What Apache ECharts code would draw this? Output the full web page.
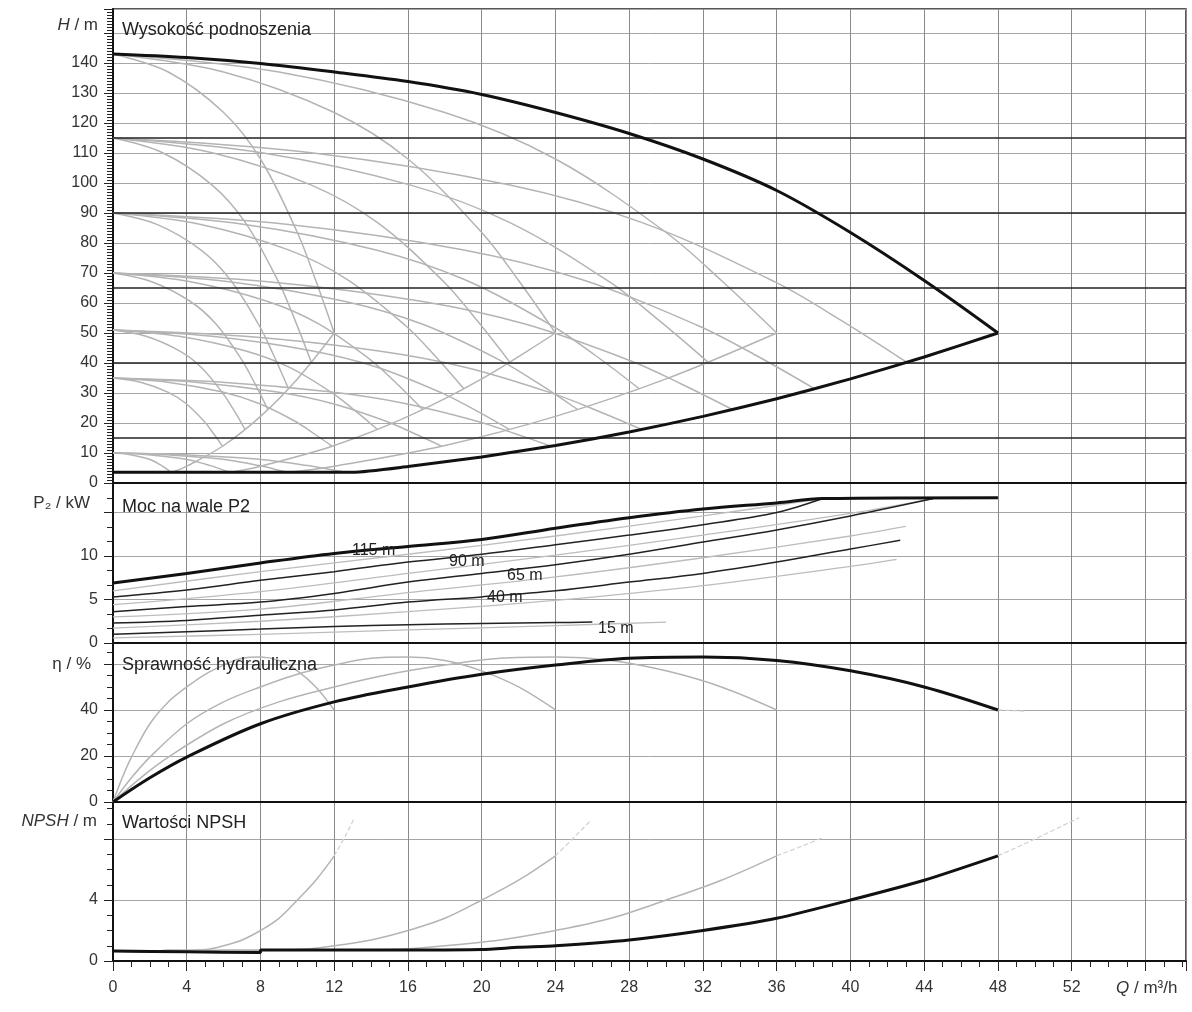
<!DOCTYPE html>
<html><head><meta charset="utf-8">
<script src="https://cdn.jsdelivr.net/npm/echarts@6/dist/echarts.min.js"></script>
<style>html,body{margin:0;padding:0;background:#fff}#c{width:1192px;height:1012px}</style>
</head><body><div id="c"></div><script>
// ---------- DATA ----------
const qTicks = [0,4,8,12,16,20,24,28,32,36,40,44,48,52];
// H panel: max curve (4 pumps, full speed) and lower limit
const hMaxQ = [0,4,8,12,16,20,24,28,32,36,40,44,48];
const hMaxH = [143,141.8,139.8,137,133.8,129.5,123.5,116.5,108,97.5,83.5,67.5,50];
const hMinQ = [0,13,16,20,24,28,32,36,40,44,48];
const hMinH = [3.6,3.6,5.5,8.7,12.5,17,22.2,28.1,34.7,42,50];
const setpoints = [115,90,65,40,15];
// gray speed curves: head values per level, flow values per pump count
const hL143 = [143,137,123.5,108,83.5,67.5,50];
const hL115 = [115,110.1,99.3,86.8,67.1,54.3,40.2];
const hL90  = [90,86.2,77.7,67.9,52.5,42.5,31.4];
const hL70  = [70,67.1,60.5,52.9,40.9,33.1,24.5];
const hL51  = [51,48.9,44.1,38.6,29.8,24.1,17.9];
const hL35  = [35,33.6,30.3,26.5,20.5,16.5,12.3];
const hL10  = [10,9.6,8.6,7.6,5.8,4.7,3.5];
const qL143 = [[0,3,6,8,10,11,12],[0,6,12,16,20,22,24],[0,9,18,24,30,33,36]];
const qL115 = [[0,2.69,5.38,7.18,8.97,9.87,10.76],[0,5.38,10.76,14.35,17.94,19.73,21.53],[0,8.07,16.15,21.53,26.91,29.6,32.29],[0,10.76,21.53,28.7,35.88,39.47,43.06]];
const qL90  = [[0,2.38,4.76,6.34,7.93,8.72,9.52],[0,4.76,9.52,12.69,15.86,17.45,19.03],[0,7.14,14.27,19.03,23.79,26.17,28.55],[0,9.52,19.03,25.38,31.72,34.89,38.06]];
const qL70  = [[0,2.1,4.2,5.6,7,7.7,8.4],[0,4.2,8.4,11.2,14,15.4,16.8],[0,6.3,12.6,16.8,21,23.1,25.2],[0,8.4,16.8,22.4,28,30.8,33.6]];
const qL51  = [[0,1.79,3.58,4.78,5.97,6.57,7.16],[0,3.58,7.16,9.55,11.94,13.13,14.33],[0,5.37,10.75,14.33,17.91,19.7,21.49],[0,7.16,14.33,19.1,23.88,26.27,28.66]];
const qL35  = [[0,1.49,2.97,3.96,4.95,5.45,5.94],[0,2.97,5.94,7.92,9.9,10.89,11.88],[0,4.46,8.91,11.88,14.85,16.34,17.82],[0,5.94,11.88,15.84,19.8,21.78,23.76]];
const qL10  = [[0,0.79,1.58,2.11,2.64,2.9,3.17],[0,1.58,3.17,4.22,5.28,5.81,6.34],[0,2.38,4.75,6.34,7.92,8.71,9.5],[0,3.17,6.34,8.45,10.56,11.62,12.67]];
const locusH = [3.5,5.6,12.5,22.2,34.7,50];
const locusQ = [[3.17,4,6,8,10,12],[6.34,8,12,16,20,24],[9.5,12,18,24,30,36]];
// P2 panel (setpoint curves)
const p115Q = [0,4,8,12,16,20,24,28,32,36,38.5,48];
const p115V = [6.9,8.0,9.2,10.3,11.1,11.9,13.2,14.4,15.4,16.1,16.6,16.7];
const p90Q = [0,4,8,12,16,20,24,28,32,36,38.5];
const p90V = [5.3,6.1,7.2,8.2,9.3,10.2,11.3,12.4,13.6,15.0,16.6];
const p65Q = [0,4,8,12,16,20,24,28,32,36,40,44.5];
const p65V = [3.6,4.2,4.7,5.7,7.0,8.0,9.0,10.2,11.6,13.0,14.6,16.6];
const p40Q = [0,4,8,12,16,20,24,28,32,36,40,42.7];
const p40V = [2.3,2.6,3.2,3.8,4.7,5.3,6.0,7.0,8.0,9.3,10.8,11.8];
const p15Q = [0,4,8,12,16,20,24,26];
const p15V = [1.0,1.3,1.6,1.9,2.1,2.25,2.35,2.4];
// P2 panel (light curves)
const pGrayQ = [[0,8,16,24,32,38.5],[0,8,16,24,32,40,44.5],[0,8,16,24,32,40,43],[0,8,16,24,32,40,42.5],[0,8,16,24,30]];
const pGrayV = [[6.0,8.2,10.2,12.3,14.6,16.6],[4.4,5.9,8.0,10.1,12.4,14.9,16.6],[3.0,3.9,5.8,7.6,9.8,12.3,13.4],[1.7,2.5,3.6,4.9,6.6,8.8,9.6],[0.6,1.0,1.5,2.0,2.4]];
// efficiency panel
const etaQ = [0,2,4,8,12,16,20,24,28,32,36,40,44,48];
const etaV = [0,10.5,19.5,34,43.5,50,55.5,59.5,62.5,63,61.5,57,50,40];
const etaGrayQ = [[0,0.5,1,2,3,4,5,6,7,8,9,10,11,12],[0,1,2,4,6,8,10,12,14,16,18,20,22,24],[0,1.5,3,6,9,12,15,18,21,24,27,30,33,36]];
const etaExtQ = [48,49.5];
const etaExtV = [40,39.5];
// NPSH panel
const npshQ = [0,4,8,8,12,16,20,22,24,28,32,36,40,44,48];
const npshV = [0.65,0.6,0.55,0.72,0.72,0.72,0.75,0.9,1.0,1.38,2.0,2.8,4.0,5.3,6.9];
const npshGrayV = [0.65,0.6,0.6,0.72,0.72,0.75,1.0,1.38,2.0,2.8,4.0,5.3,6.9];
const npshGrayQ = [[0,1,2,3,4,5,6,7,8,9,10,11,12],[0,2,4,6,8,10,12,14,16,18,20,22,24],[0,3,6,9,12,15,18,21,24,27,30,33,36]];
const npshExtQ = [[12,12.6,13.1],[24,25,25.9],[36,37.5,38.5],[48,50,52.4]];
const npshExtV = [[6.9,8.2,9.4],[6.9,8.1,9.2],[6.9,7.6,8.1],[6.9,8.0,9.4]];

// ---------- CHART ----------
const zip = (a,b) => a.map((x,i)=>[x,b[i]]);
const FONT = '"Liberation Sans", Arial, sans-serif';
const XMAX = 58.2;
const grids = [
  {left:113, right:6, top:9, height:474},
  {left:113, right:6, top:483, height:160},
  {left:113, right:6, top:643, height:159},
  {left:113, right:6, top:802, height:159}
].map(g=>Object.assign(g,{show:true,borderColor:'#222',borderWidth:1.5}));

const xAxes = [0,1,2,3].map(i=>({
  type:'value', gridIndex:i, min:0, max:XMAX, interval:4,
  axisLine:{show:true,onZero:false,lineStyle:{color:'#111',width:2}},
  axisTick:{show:i===3,length:10,lineStyle:{color:'#222'}},
  minorTick:{show:i===3,splitNumber:4,length:6,lineStyle:{color:'#222'}},
  axisLabel:{show:i===3,color:'#333',fontSize:16,fontFamily:FONT,margin:19,
    formatter:v=> (qTicks.indexOf(v)>=0 ? String(v) : '')},
  splitLine:{show:true,lineStyle:{color:'#8a8a8a',width:1}}
}));
function yAx(i,max,interval,minorN,hide){
  return {type:'value',gridIndex:i,min:0,max:max,interval:interval,
    axisLine:{show:true,lineStyle:{color:'#111',width:2}},
    axisTick:{show:true,length:9,lineStyle:{color:'#222'}},
    minorTick:{show:true,splitNumber:minorN,length:6,lineStyle:{color:'#222'}},
    axisLabel:{color:'#333',fontSize:16,fontFamily:FONT,margin:15,showMaxLabel:false,
      formatter:v=> (v===hide? '' : String(v))},
    splitLine:{show:true,lineStyle:{color:'#a6a6a6',width:1}}};
}
const yAxes = [yAx(0,158,10,10,150), yAx(1,18.39,5,3,15), yAx(2,69.1,20,4,60), yAx(3,10.43,4,4,8)];

const series = [];
const GRAY = '#b4b4b4';
function line(gi,data,color,width,z,extra){
  series.push(Object.assign({type:'line',xAxisIndex:gi,yAxisIndex:gi,data:data,showSymbol:false,symbol:'none',
    smooth:0.35,lineStyle:{color:color,width:width},z:z,silent:true,animation:false},extra||{}));
}
// H gray curves
[[qL143,hL143],[qL115,hL115],[qL90,hL90],[qL70,hL70],[qL51,hL51],[qL35,hL35],[qL10,hL10]].forEach(([qs,hs])=>{
  qs.forEach(q=>line(0,zip(q,hs),GRAY,1.5,2));
});
locusQ.forEach(q=>line(0,zip(q,locusH),GRAY,1.5,2));
// setpoint lines
series.push({type:'line',xAxisIndex:0,yAxisIndex:0,data:[],silent:true,z:3,
  markLine:{silent:true,symbol:'none',label:{show:false},animation:false,
    lineStyle:{color:'#222',width:1.5,type:'solid'},data:setpoints.map(v=>({yAxis:v}))}});
line(0,zip(hMaxQ,hMaxH),'#111',3,5);
line(0,zip(hMinQ,hMinH),'#111',3,5,{smooth:0.2});
// P2
pGrayQ.forEach((q,i)=>line(1,zip(q,pGrayV[i]),'#bdbdbd',1.3,2));
line(1,zip(p15Q,p15V),'#222',1.5,4);
line(1,zip(p40Q,p40V),'#222',1.5,4);
line(1,zip(p65Q,p65V),'#222',1.5,4);
line(1,zip(p90Q,p90V),'#222',1.5,4);
line(1,zip(p115Q,p115V),'#111',3,5);
// efficiency
etaGrayQ.forEach(q=>line(2,zip(q,etaV),GRAY,1.5,2));
line(2,zip(etaExtQ,etaExtV),'#d0d0d0',1.2,2,{lineStyle:{color:'#d0d0d0',width:1.2,type:'dashed'}});
line(2,zip(etaQ,etaV),'#111',3,5);
// NPSH
npshGrayQ.forEach(q=>line(3,zip(q,npshGrayV),GRAY,1.5,2));
npshExtQ.forEach((q,i)=>line(3,zip(q,npshExtV[i]),'#d0d0d0',1.2,2,{lineStyle:{color:'#d0d0d0',width:1.2,type:'dashed'}}));
line(3,zip(npshQ,npshV),'#111',3,5,{smooth:0.2});

const T = (txt,x,y,size,extra)=>Object.assign({type:'text',x:x,y:y,z:100,
  style:Object.assign({text:txt,fill:'#222',font:size+'px '+FONT,textVerticalAlign:'middle'},extra||{})});
const rich = (txt,x,y,size,align)=>({type:'text',x:x,y:y,z:100,style:{text:txt,textAlign:align,textVerticalAlign:'middle',
  fill:'#333',font:size+'px '+FONT,rich:{i:{fontStyle:'italic',fontSize:size,fontFamily:FONT,fill:'#333'}}}});
const graphics = [
  T('Wysokość podnoszenia',122,30,18),
  T('Moc na wale P2',122,507,18),
  T('Sprawność hydrauliczna',122,665,18),
  T('Wartości NPSH',122,823,18),
  rich('{i|H} / m',98,25,17,'right'),
  T('P₂ / kW',90,503,17,{textAlign:'right',fill:'#333'}),
  T('η / %',91,664,17,{textAlign:'right',fill:'#333'}),
  rich('{i|NPSH} / m',97,821,17,'right'),
  rich('{i|Q} / m³/h',1116,988,17,'left'),
  T('115 m',352,551,16),
  T('90 m',449,562,16),
  T('65 m',507,576,16),
  T('40 m',487,598,16),
  T('15 m',598,629,16)
];

const chart = echarts.init(document.getElementById('c'),null,{renderer:'canvas'});
chart.setOption({animation:false,backgroundColor:'#fff',grid:grids,xAxis:xAxes,yAxis:yAxes,series:series,graphic:graphics});
</script></body></html>
